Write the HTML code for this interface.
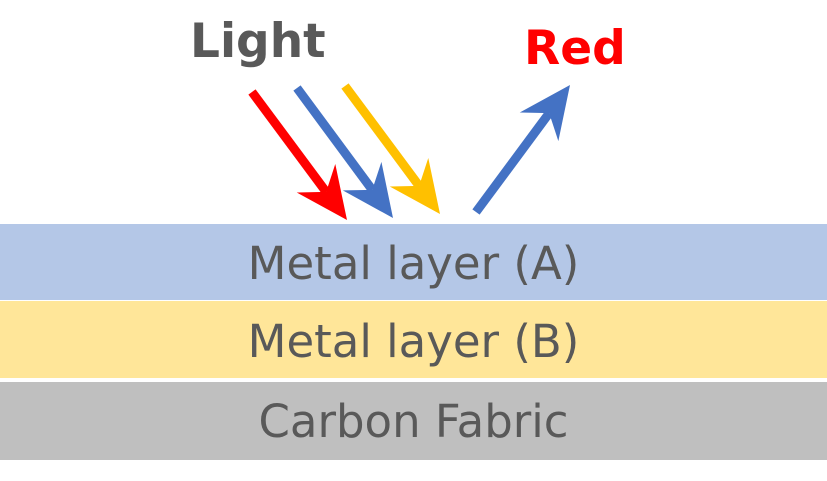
<!DOCTYPE html>
<html><head><style>
body{margin:0;width:827px;height:481px;background:#fff;position:relative;overflow:hidden;font-family:"DejaVu Sans","Liberation Sans",sans-serif}
.l{position:absolute;left:0;width:827px;color:#595959;font-size:45px;text-align:center}
</style></head><body>
<div class="l" style="top:224px;height:76px;line-height:80px;background:#b4c7e7">Metal layer (A)</div>
<div class="l" style="top:301px;height:77px;line-height:81px;background:#ffe699">Metal layer (B)</div>
<div class="l" style="top:382px;height:78px;line-height:80px;background:#bfbfbf">Carbon Fabric</div>
<div style="position:absolute;left:190px;top:14px;font-size:47px;font-weight:bold;color:#595959">Light</div>
<div style="position:absolute;left:524px;top:21px;font-size:47px;font-weight:bold;color:#ff0000">Red</div>
<svg id="s" width="827" height="481" style="position:absolute;left:0;top:0"></svg>
<script>
var A=[[252,92,347,220,'#ff0000'],[297,88,393,218,'#4472c4'],[345,86,440,214,'#ffc000'],[476,212,570,85,'#4472c4']];
var h='';
A.forEach(function(a){var x1=a[0],y1=a[1],x2=a[2],y2=a[3],c=a[4];
var dx=x2-x1,dy=y2-y1,L=Math.hypot(dx,dy),ux=dx/L,uy=dy/L,px=-uy,py=ux;
var hl=52,hw=24,nd=17;
var bx=x2-ux*hl,by=y2-uy*hl,nx=x2-ux*(hl-nd),ny=y2-uy*(hl-nd);
h+='<line x1="'+x1+'" y1="'+y1+'" x2="'+nx+'" y2="'+ny+'" stroke="'+c+'" stroke-width="9"/>';
h+='<polygon fill="'+c+'" points="'+x2+','+y2+' '+(bx+px*hw)+','+(by+py*hw)+' '+nx+','+ny+' '+(bx-px*hw)+','+(by-py*hw)+'"/>';});
document.getElementById('s').innerHTML=h;
</script>
</body></html>
